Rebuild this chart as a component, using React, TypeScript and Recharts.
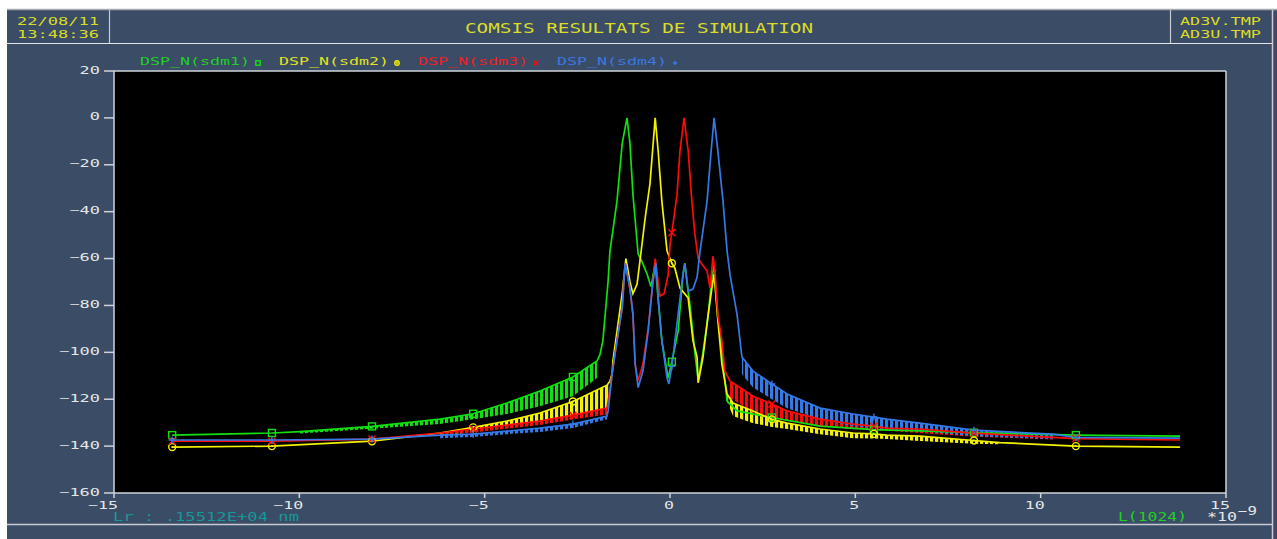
import { ComposedChart, Line, Area, XAxis, YAxis, CartesianGrid, ReferenceLine } from 'recharts'

const X_TICKS = [-15, -10, -5, 0, 5, 10, 15]
const Y_TICKS = [20, 0, -20, -40, -60, -80, -100, -120, -140, -160]
const MARKER_X = [-13.43, -10.74, -8.04, -5.31, -2.62, 0.05, 2.75, 5.5, 8.2, 10.95]

// sdm1 (green) : [x, dB] for lines, [x, bas, haut] for the oscillating skirts
const SDM1_TAIL_L = [[-13.43, -135.3], [-10.74, -134.4]]
const SDM1_BAND_L = [
  [-9.98, -134.6, -133.8], [-8.04, -132.6, -131.6], [-6.2, -130.6, -128.5], [-5.31, -128.5, -126.2],
  [-4.4, -126.3, -121.6], [-3.51, -123.0, -116.5], [-2.62, -118.7, -110.5], [-1.97, -111.0, -103.7],
]
const SDM1_CENTER = [
  [-1.89, -101], [-1.81, -95], [-1.67, -69.6], [-1.62, -56.8], [-1.43, -35.5], [-1.29, -11], [-1.16, 0],
  [-1.08, -11], [-1.0, -32.5], [-0.86, -58], [-0.73, -62.3], [-0.62, -66.6], [-0.51, -72], [-0.4, -62],
  [-0.32, -77], [-0.22, -95], [-0.05, -111], [0.05, -104], [0.22, -91], [0.35, -67], [0.4, -62],
  [0.49, -74], [0.54, -80], [0.67, -100], [0.76, -112], [0.89, -100], [1.03, -84], [1.13, -68],
  [1.19, -63], [1.29, -85], [1.4, -100], [1.54, -120.8],
]
const SDM1_BAND_R: number[][] = []
const SDM1_TAIL_R = [
  [1.81, -125], [2.75, -127.8], [4.05, -131.5], [5.5, -133], [6.74, -133.5], [8.2, -134.3],
  [8.9, -134.5], [10.95, -135.3], [13.76, -135.7],
]

// sdm2 (yellow)
const SDM2_TAIL_L = [[-13.43, -140.4], [-10.74, -140.0], [-8.04, -137.9]]
const SDM2_BAND_L = [
  [-6.2, -135.7, -134.4], [-5.31, -134.0, -132.0], [-4.4, -132.3, -129.3], [-3.51, -130.2, -125.9],
  [-2.62, -127.2, -121.0], [-1.7, -123.8, -114.0], [-1.62, -120.0, -112.3],
]
const SDM2_CENTER = [
  [-1.56, -109], [-1.54, -103.7], [-1.29, -75], [-1.19, -60], [-1.08, -70], [-1.0, -75], [-0.89, -71],
  [-0.81, -61], [-0.67, -42.7], [-0.54, -28], [-0.4, 0], [-0.32, -14], [-0.22, -35.5], [-0.08, -56.8],
  [0.05, -62], [0.13, -64], [0.27, -72.6], [0.49, -76.8], [0.62, -95], [0.73, -102], [0.76, -113],
  [0.89, -102], [1.03, -84], [1.13, -72.6], [1.19, -66.6], [1.29, -86], [1.4, -105],
]
const SDM2_BAND_R = [
  [1.54, -121, -117.8], [1.7, -127.2, -121.6], [2.24, -130.2, -125], [2.75, -131.8, -128.6],
  [3.16, -132.7, -130.2], [4.05, -134.9, -132.7], [4.94, -136.6, -134.4], [5.5, -136.8, -134.8],
  [5.85, -137.0, -135.3], [6.74, -137.8, -135.7], [8.2, -139.0, -137.6], [8.9, -139.2, -138.5],
]
const SDM2_TAIL_R = [[10.95, -140.0], [13.76, -140.4]]

// sdm3 (red)
const SDM3_TAIL_L = [[-13.43, -137.9], [-10.74, -137.9], [-8.04, -137.0]]
const SDM3_BAND_L = [
  [-6.2, -135.3, -134.4], [-5.31, -134.2, -132.7], [-4.4, -132.6, -131.0], [-3.51, -131.0, -129.3],
  [-2.62, -128.6, -126.8], [-1.7, -126.5, -123.8],
]
const SDM3_CENTER = [
  [-1.62, -116], [-1.56, -109], [-1.43, -95], [-1.29, -81], [-1.21, -62], [-1.08, -73], [-1.0, -84],
  [-0.94, -105], [-0.86, -112], [-0.73, -105], [-0.59, -90], [-0.46, -70], [-0.4, -60], [-0.27, -76],
  [-0.16, -75], [-0.05, -67], [0, -54], [0.05, -49], [0.19, -32.5], [0.27, -14], [0.38, 0], [0.49, -14],
  [0.59, -35.5], [0.67, -49.5], [0.76, -60], [0.86, -62.3], [1.0, -65.3], [1.08, -72.6], [1.16, -59],
  [1.21, -65], [1.29, -84], [1.4, -95], [1.48, -108],
]
const SDM3_BAND_R = [
  [1.62, -119.5, -112.3], [1.89, -122, -115], [2.24, -125.9, -118.7], [2.75, -128, -122],
  [3.16, -129.3, -125], [4.05, -131.5, -128.5], [4.94, -132.7, -130.6], [5.5, -133.2, -131.5],
  [5.85, -133.5, -132.3], [6.74, -134.4, -132.7], [8.2, -136, -134.5], [10.33, -137.2, -136.3],
]
const SDM3_TAIL_R = [[10.95, -136.8], [13.76, -137.4]]

// sdm4 (blue)
const SDM4_TAIL_L = [[-13.43, -137.4], [-10.74, -137.4], [-8.04, -137.0]]
const SDM4_BAND_L = [
  [-6.2, -136.6, -135.3], [-5.31, -136.1, -134.9], [-4.4, -134.9, -133.6], [-3.51, -134.0, -132.3],
  [-2.62, -132.3, -130.6], [-1.7, -128.5, -127.2],
]
const SDM4_CENTER = [
  [-1.67, -125], [-1.56, -109], [-1.43, -95], [-1.29, -81], [-1.21, -62], [-1.08, -72.6], [-1.0, -83.7],
  [-0.94, -105], [-0.86, -115], [-0.73, -108], [-0.59, -91], [-0.46, -69.6], [-0.38, -62], [-0.32, -76.8],
  [-0.22, -95], [-0.08, -111], [-0.03, -113.5], [0.05, -106], [0.22, -83.7], [0.35, -66.6], [0.4, -62.3],
  [0.49, -73.9], [0.62, -73], [0.73, -68], [0.81, -56.8], [0.89, -48], [1.0, -35.5], [1.11, -14],
  [1.19, 0], [1.29, -14], [1.43, -35.5], [1.54, -56.8], [1.62, -67], [1.81, -84],
]
const SDM4_BAND_R = [
  [1.94, -109.3, -102], [2.24, -115, -108], [2.75, -120, -113.5], [3.16, -123.8, -117.8],
  [4.05, -128.5, -123.8], [4.94, -131.5, -126.3], [5.5, -132.3, -127.6], [5.85, -132.7, -128.5],
  [6.74, -133.6, -130.2], [8.2, -135.8, -133.2], [10.33, -137, -134.9],
]
const SDM4_TAIL_R = [[10.95, -136.3], [13.76, -136.6]]

const SLATE = '#3a4c66'
const HEAD_YELLOW = '#dcdc28'
const TICK_COLOR = '#e6e6e6'
const FRAME = '#cfd3d8'
const FONT = '"DejaVu Sans Mono", monospace'

type Marker = 'square' | 'circle' | 'cross' | 'plus'

const SERIES = [
  { id: 'sdm1', label: 'DSP_N(sdm1)', color: '#10e010', text: '#22d022', marker: 'square' as Marker,
    parts: [SDM1_TAIL_L, SDM1_BAND_L, SDM1_CENTER, SDM1_BAND_R, SDM1_TAIL_R] },
  { id: 'sdm2', label: 'DSP_N(sdm2)', color: '#f2f200', text: '#e2e222', marker: 'circle' as Marker,
    parts: [SDM2_TAIL_L, SDM2_BAND_L, SDM2_CENTER, SDM2_BAND_R, SDM2_TAIL_R] },
  { id: 'sdm3', label: 'DSP_N(sdm3)', color: '#ff0a0a', text: '#f02020', marker: 'cross' as Marker,
    parts: [SDM3_TAIL_L, SDM3_BAND_L, SDM3_CENTER, SDM3_BAND_R, SDM3_TAIL_R] },
  { id: 'sdm4', label: 'DSP_N(sdm4)', color: '#3479e8', text: '#3a78e0', marker: 'plus' as Marker,
    parts: [SDM4_TAIL_L, SDM4_BAND_L, SDM4_CENTER, SDM4_BAND_R, SDM4_TAIL_R] },
]

function lineData(parts: number[][][]) {
  const [tl, bl, c, br, tr] = parts
  const top = (b: number[][]) => b.map(([x, , hi]) => [x, hi])
  return [...tl, ...top(bl), ...c, ...top(br), ...tr].map(([x, y]) => ({ x, y }))
}

function bandData(band: number[][]) {
  return band.map(([x, lo, hi]) => ({ x, r: [lo, hi] }))
}

function markerShape(kind: Marker, cx: number, cy: number, color: string, s = 3.5) {
  if (kind === 'square')
    return <rect x={cx - s} y={cy - s} width={s * 2} height={s * 2} fill="none" stroke={color} strokeWidth={1.4} />
  if (kind === 'circle')
    return (
      <g>
        <circle cx={cx} cy={cy} r={s} fill="none" stroke={color} strokeWidth={1.4} />
        <circle cx={cx} cy={cy} r={1} fill={color} />
      </g>
    )
  if (kind === 'cross')
    return (
      <path d={`M${cx - s},${cy - s}L${cx + s},${cy + s}M${cx - s},${cy + s}L${cx + s},${cy - s}`}
        stroke={color} strokeWidth={1.4} />
    )
  return <path d={`M${cx - s},${cy}L${cx + s},${cy}M${cx},${cy - s}L${cx},${cy + s}`} stroke={color} strokeWidth={1.4} />
}

function makeDot(kind: Marker, color: string) {
  return (props: any) => {
    const { cx, cy, payload, index } = props
    if (!MARKER_X.includes(payload.x) || cx == null) return <g key={`n${index}`} />
    return <g key={`m${index}`}>{markerShape(kind, cx, cy, color)}</g>
  }
}

const fmt = (v: number) => (v < 0 ? '\u2212' + Math.abs(v) : String(v))

function YTick(props: any) {
  const { x, y, payload } = props
  const s = fmt(payload.value)
  const w = s.length * 10.2
  return (
    <text x={x - w} y={y + 2.5} fill={TICK_COLOR} fontFamily={FONT} fontSize={10.5}
      textLength={w} lengthAdjust="spacingAndGlyphs">{s}</text>
  )
}

function XTick(props: any) {
  const { x, y, payload } = props
  const s = fmt(payload.value)
  const w = s.length * 10
  return (
    <text x={x + 4 - w} y={y + 9} fill={TICK_COLOR} fontFamily={FONT} fontSize={10.5}
      textLength={w} lengthAdjust="spacingAndGlyphs">{s}</text>
  )
}

function T(p: { x: number; y: number; w: number; size: number; color: string; children: string }) {
  return (
    <text x={p.x} y={p.y} fill={p.color} fontFamily={FONT} fontSize={p.size}
      textLength={p.w} lengthAdjust="spacingAndGlyphs" style={{ whiteSpace: 'pre' }}>{p.children}</text>
  )
}

const LEGEND_X = [140, 279, 418, 557]

export default function App() {
  return (
    <div style={{ position: 'absolute', left: 0, top: 0, width: 1277, height: 539, background: '#fff', overflow: 'hidden' }}>
      <div style={{ position: 'absolute', left: 7, top: 10, width: 1270, height: 529, background: SLATE }} />
      <div style={{ position: 'absolute', left: 0, top: 0 }}>
        <ComposedChart width={1277} height={539} margin={{ top: 71, right: 51, bottom: 16, left: 54 }}>
          <defs>
            {SERIES.map((s) => (
              <pattern key={s.id} id={`stripe-${s.id}`} width={5} height={8} patternUnits="userSpaceOnUse">
                <rect x={0} y={0} width={3.2} height={8} fill={s.color} />
              </pattern>
            ))}
          </defs>
          <CartesianGrid fill="#000" stroke="none" horizontal={false} vertical={false} />
          <XAxis type="number" dataKey="x" domain={[-15, 15]} ticks={X_TICKS} allowDataOverflow
            height={30} tickSize={5} tickMargin={2} tick={<XTick />}
            axisLine={{ stroke: FRAME, strokeWidth: 1.5 }} tickLine={{ stroke: FRAME, strokeWidth: 1.5 }} />
          <YAxis type="number" domain={[-160, 20]} ticks={Y_TICKS} allowDataOverflow
            width={60} tickSize={10} tickMargin={4} tick={<YTick />}
            axisLine={{ stroke: FRAME, strokeWidth: 1.5 }} tickLine={{ stroke: FRAME, strokeWidth: 1.5 }} />
          <ReferenceLine y={20} stroke={FRAME} strokeWidth={1.5} />
          <ReferenceLine x={15} stroke={FRAME} strokeWidth={1.5} />
          {SERIES.flatMap((s) => [
            s.parts[1].length > 0 && (
              <Area key={`${s.id}-bl`} data={bandData(s.parts[1])} dataKey="r" type="linear"
                fill={`url(#stripe-${s.id})`} fillOpacity={1} stroke="none" isAnimationActive={false} activeDot={false} />
            ),
            s.parts[3].length > 0 && (
              <Area key={`${s.id}-br`} data={bandData(s.parts[3])} dataKey="r" type="linear"
                fill={`url(#stripe-${s.id})`} fillOpacity={1} stroke="none" isAnimationActive={false} activeDot={false} />
            ),
            <Line key={`${s.id}-line`} data={lineData(s.parts)} dataKey="y" type="linear" stroke={s.color}
              strokeWidth={1.7} dot={makeDot(s.marker, s.color)} activeDot={false} isAnimationActive={false} />,
          ])}
        </ComposedChart>
      </div>
      <svg width={1277} height={539} style={{ position: 'absolute', left: 0, top: 0, pointerEvents: 'none' }}>
        <line x1={7} y1={9.5} x2={1277} y2={9.5} stroke="#a8acb2" strokeWidth={1.5} />
        <line x1={7} y1={43.5} x2={1272} y2={43.5} stroke="#e2e4e8" strokeWidth={1.2} />
        <line x1={109.5} y1={10} x2={109.5} y2={43} stroke="#c8ccd2" strokeWidth={1.2} />
        <line x1={1170.5} y1={10} x2={1170.5} y2={43} stroke="#c8ccd2" strokeWidth={1.2} />
        <line x1={7} y1={524.5} x2={1272} y2={524.5} stroke="#c8ccd2" strokeWidth={1.5} />
        <line x1={1272.5} y1={10} x2={1272.5} y2={539} stroke="#d6c8d0" strokeWidth={1.5} />
        <T x={17} y={24.5} w={82} size={11} color={HEAD_YELLOW}>22/08/11</T>
        <T x={17} y={38} w={82} size={11} color={HEAD_YELLOW}>13:48:36</T>
        <T x={465} y={33} w={348} size={13.5} color={HEAD_YELLOW}>COMSIS RESULTATS DE SIMULATION</T>
        <T x={1180} y={24.5} w={81} size={11} color={HEAD_YELLOW}>AD3V.TMP</T>
        <T x={1180} y={38} w={81} size={11} color={HEAD_YELLOW}>AD3U.TMP</T>
        {SERIES.map((s, i) => (
          <g key={s.id}>
            <T x={LEGEND_X[i]} y={64.5} w={110} size={10.5} color={s.text}>{s.label}</T>
            {markerShape(s.marker, LEGEND_X[i] + 118, 63, s.color, 2.2)}
          </g>
        ))}
        <T x={113} y={521} w={186} size={11.5} color="#179898">{'Lr : .15512E+04 nm'}</T>
        <T x={1118} y={521} w={69} size={11.5} color="#22d022">L(1024)</T>
        <T x={1207} y={521} w={30} size={11.5} color={TICK_COLOR}>*10</T>
        <T x={1238} y={515} w={19} size={11.5} color={TICK_COLOR}>{'\u22129'}</T>
      </svg>
    </div>
  )
}
